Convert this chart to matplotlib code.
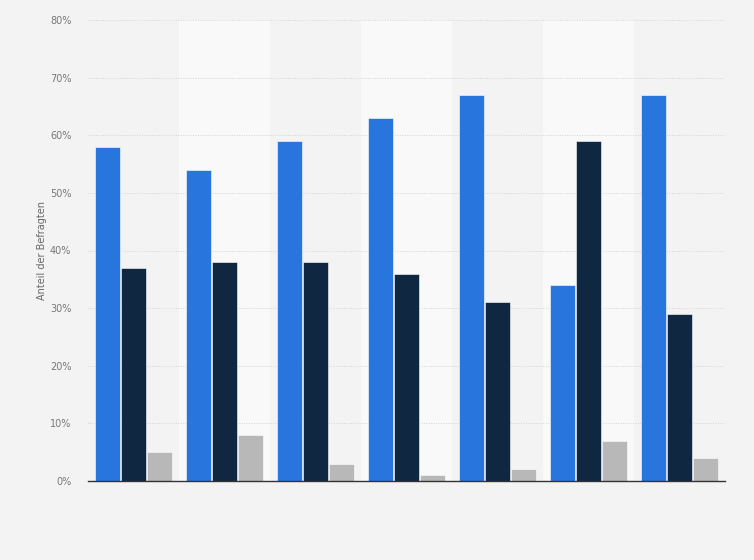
import matplotlib.pyplot as plt
import numpy as np

# Werte (Anteil der Befragten in %)
gruppen = np.arange(7)
serie_blau = [58, 54, 59, 63, 67, 34, 67]
serie_dunkel = [37, 38, 38, 36, 31, 59, 29]
serie_grau = [5, 8, 3, 1, 2, 7, 4]
y_ticks = [0, 10, 20, 30, 40, 50, 60, 70, 80]

farben = ["#2876dd", "#0f2741", "#b8b8b8"]

fig = plt.figure(figsize=(7.54, 5.6), dpi=100, facecolor="#f3f3f3")
ax = fig.add_axes([88 / 754, 1 - 481 / 560, (725 - 88) / 754, (481 - 20) / 560])
ax.set_facecolor("#f3f3f3")

# abwechselnde Hintergrundstreifen
for i in gruppen:
    if i % 2 == 1:
        ax.axvspan(i - 0.5, i + 0.5, color="#f9f9f9", zorder=0, lw=0)

breite = 0.264
abstand = 0.2857
for j, (werte, farbe) in enumerate(zip([serie_blau, serie_dunkel, serie_grau], farben)):
    ax.bar(gruppen + (j - 1) * abstand, werte, width=breite, color=farbe,
           edgecolor="#ffffff", linewidth=0.4, zorder=3)

ax.set_xlim(-0.5, 6.5)
ax.set_ylim(0, 80)
ax.set_yticks(y_ticks)
ax.set_yticklabels([f"{t}%" for t in y_ticks], fontsize=7, color="#777777")
ax.set_xticks([])
ax.tick_params(axis="y", length=0, pad=12)
ax.yaxis.grid(True, linestyle=(0, (1, 1.5)), color="#d4d4d4", linewidth=0.7, zorder=1)

for s in ["top", "right", "left"]:
    ax.spines[s].set_visible(False)
ax.spines["bottom"].set_color("#333333")
ax.spines["bottom"].set_linewidth(1)
ax.spines["bottom"].set_zorder(4)

ax.set_ylabel("Anteil der Befragten", fontsize=7, color="#666666", labelpad=2)

fig.savefig("out.png", dpi=100, facecolor=fig.get_facecolor())
